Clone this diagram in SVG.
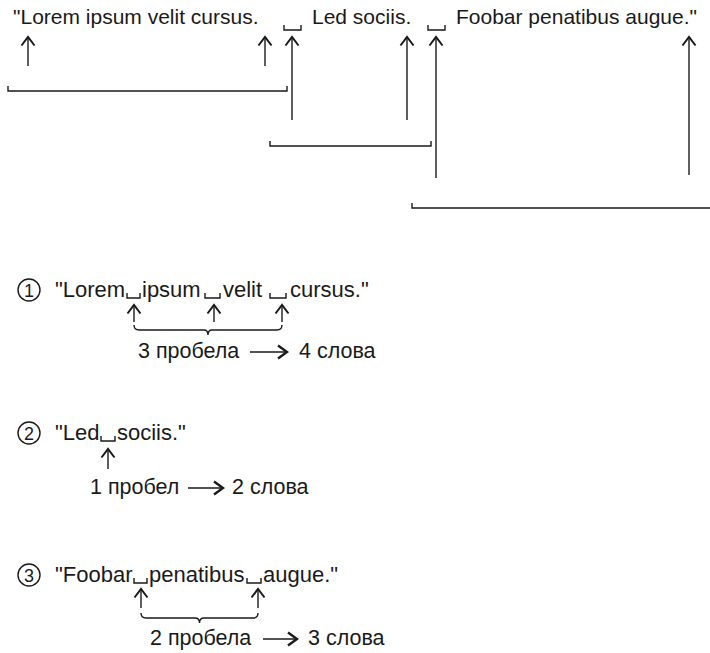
<svg xmlns="http://www.w3.org/2000/svg" width="710" height="653" viewBox="0 0 710 653">
<defs>
<style>
text{font-family:"Liberation Sans",Arial,sans-serif;fill:#1a1a1a}
.t{font-size:21px}
.w{font-size:22px}
.s{font-size:21.5px}
.n{font-size:18px}
.ln{fill:none;stroke:#1a1a1a;stroke-width:1.4}
.sp{fill:none;stroke:#1a1a1a;stroke-width:1.4}
.arr{fill:none;stroke:#1a1a1a;stroke-width:1.4;marker-end:url(#ah)}
.big{fill:none;stroke:#1a1a1a;stroke-width:1.6;marker-end:url(#ah2)}
.c{fill:none;stroke:#1a1a1a;stroke-width:1.4}
</style>
<marker id="ah" viewBox="-11 -9 13 18" refX="0" refY="0" markerWidth="13" markerHeight="18" orient="auto" markerUnits="userSpaceOnUse"><path d="M-8.5,-6.5 L0,0 L-8.5,6.5" fill="none" stroke="#1a1a1a" stroke-width="2"/></marker>
<marker id="ah2" viewBox="-11 -9 13 18" refX="0" refY="0" markerWidth="13" markerHeight="18" orient="auto" markerUnits="userSpaceOnUse"><path d="M-9,-6.5 L0,0 L-9,6.5" fill="none" stroke="#1a1a1a" stroke-width="2.4"/></marker>
</defs>
<rect width="710" height="653" fill="#fff"/>

<g id="top-sentence">
<text class="t" x="13" y="24">"Lorem ipsum velit cursus.</text>
<path class="sp" d="M284,25 V30 H301 V25"/>
<text class="t" x="312" y="24">Led sociis.</text>
<path class="sp" d="M428,25 V30 H445 V25"/>
<text class="t" x="456" y="24">Foobar penatibus augue."</text>
</g>

<g id="section-1">
<circle class="c" cx="29" cy="290" r="11"/>
<text class="n" x="29" y="296.5" text-anchor="middle">1</text>
<text class="w" x="55" y="297">"Lorem</text>
<path class="sp" d="M127,293 V298 H140 V293"/>
<text class="w" x="142" y="297">ipsum</text>
<path class="sp" d="M205,293 V298 H220 V293"/>
<text class="w" x="223" y="297">velit</text>
<path class="sp" d="M270,293 V298 H286 V293"/>
<text class="w" x="290" y="297">cursus."</text>
<text class="s" x="138" y="358">3 пробела</text>
<text class="s" x="299" y="358">4 слова</text>
</g>

<g id="section-2">
<circle class="c" cx="29" cy="433" r="11"/>
<text class="n" x="29" y="439.5" text-anchor="middle">2</text>
<text class="w" x="55" y="440">"Led</text>
<path class="sp" d="M101,436 V441 H115 V436"/>
<text class="w" x="117" y="440">sociis."</text>
<text class="s" x="90" y="494">1 пробел</text>
<text class="s" x="232" y="494">2 слова</text>
</g>

<g id="section-3">
<circle class="c" cx="29" cy="575" r="11"/>
<text class="n" x="29" y="581.5" text-anchor="middle">3</text>
<text class="w" x="55" y="582">"Foobar</text>
<path class="sp" d="M134,578 V583 H147 V578"/>
<text class="w" x="149" y="582">penatibus</text>
<path class="sp" d="M247,578 V583 H261 V578"/>
<text class="w" x="263" y="582">augue."</text>
<text class="s" x="150" y="645">2 пробела</text>
<text class="s" x="308" y="645">3 слова</text>
</g>

<g id="connectors">
<line class="arr" x1="28" y1="66" x2="28" y2="37"/>
<line class="arr" x1="265" y1="66" x2="265" y2="37"/>
<line class="arr" x1="292" y1="120" x2="292" y2="37"/>
<line class="arr" x1="407" y1="120" x2="407" y2="37"/>
<line class="arr" x1="436" y1="178" x2="436" y2="37"/>
<line class="arr" x1="689" y1="175" x2="689" y2="37"/>
<path class="ln" d="M8,86 V91 H287 V86"/>
<path class="ln" d="M270,141 V146 H431 V141"/>
<path class="ln" d="M412,203 V208 H712"/>

<line class="arr" x1="134" y1="322" x2="134" y2="305"/>
<line class="arr" x1="214" y1="322" x2="214" y2="305"/>
<line class="arr" x1="282" y1="322" x2="282" y2="305"/>
<path class="ln" d="M134,325 Q134,330 139,330 H204 Q208,330 208,335 Q208,330 212,330 H277 Q282,330 282,325"/>
<line class="big" x1="250" y1="352" x2="287" y2="352"/>

<line class="arr" x1="108" y1="469" x2="108" y2="449"/>
<line class="big" x1="188" y1="488" x2="223" y2="488"/>

<line class="arr" x1="141" y1="608" x2="141" y2="589"/>
<line class="arr" x1="258" y1="608" x2="258" y2="589"/>
<path class="ln" d="M141,613 Q141,618 146,618 H195 Q199.5,618 199.5,623 Q199.5,618 204,618 H253 Q258,618 258,613"/>
<line class="big" x1="263" y1="639" x2="297" y2="639"/>
</g>
</svg>
